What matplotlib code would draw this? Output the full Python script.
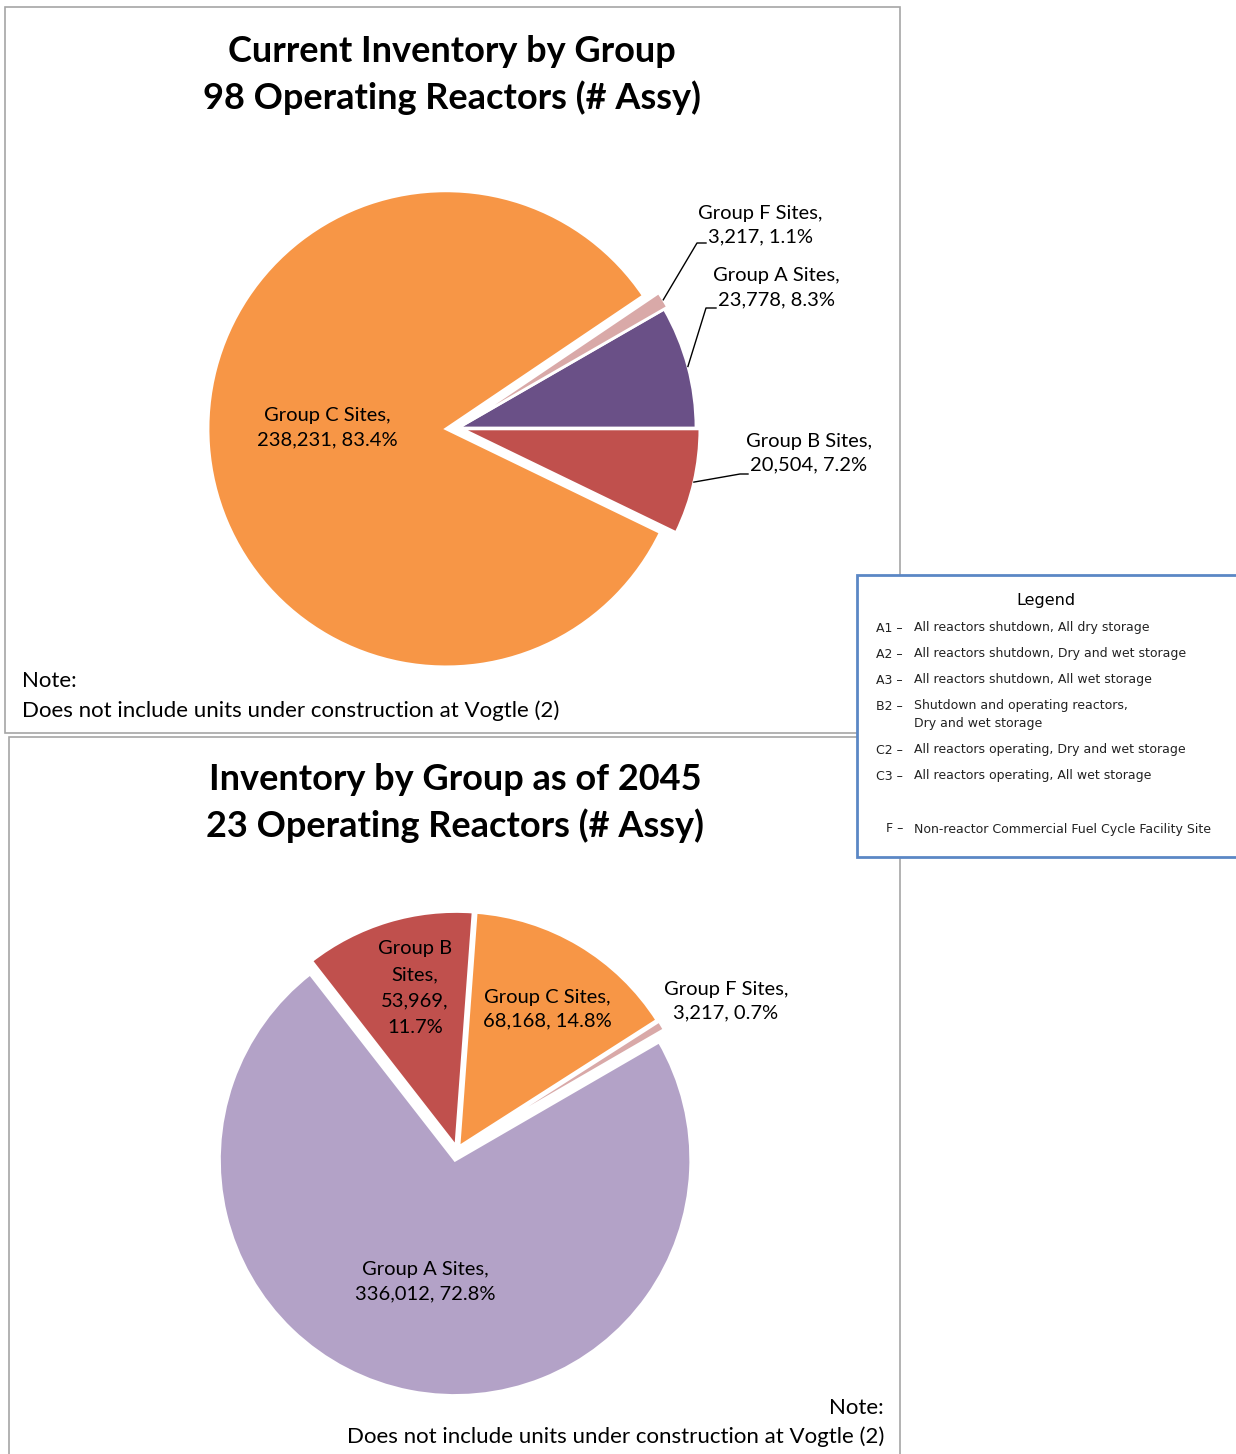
import matplotlib
matplotlib.use("Agg")
import numpy as np
import matplotlib.pyplot as plt
from matplotlib.patches import Rectangle

W, H = 1236, 1454

# current inventory, 98 operating reactors (counterclockwise from 3 o'clock)
groups_now = ["Group A Sites", "Group F Sites", "Group C Sites", "Group B Sites"]
assy_now = [23778, 3217, 238231, 20504]
colors_now = ["#6A5087", "#D9A9A8", "#F79646", "#C0504D"]

# inventory as of 2045, 23 operating reactors
groups_2045 = ["Group A Sites", "Group F Sites", "Group C Sites", "Group B Sites"]
assy_2045 = [336012, 3217, 68168, 53969]
colors_2045 = ["#B3A2C7", "#D9A9A8", "#F79646", "#C0504D"]

legend_codes = ["A1", "A2", "A3", "B2", "C2", "C3", "F"]
legend_desc = ["All reactors shutdown, All dry storage",
               "All reactors shutdown, Dry and wet storage",
               "All reactors shutdown, All wet storage",
               "Shutdown and operating reactors,\nDry and wet storage",
               "All reactors operating, Dry and wet storage",
               "All reactors operating, All wet storage",
               "Non-reactor Commercial Fuel Cycle Facility Site"]

note = "Does not include units under construction at Vogtle (2)"
FONT = "Lato"
LBL = dict(fontsize=14.5, family=FONT, linespacing=1.5, ha="center", va="center")
TTL = dict(fontsize=26, fontweight="bold", family=FONT, linespacing=1.42, ha="center", va="center")


def Y(y):
    # picture rows are counted from the top
    return H - y


def label(name, v, total):
    return "%s,\n%s, %.1f%%" % (name, format(v, ","), 100.0 * v / total)


fig = plt.figure(figsize=(12.36, 14.54), dpi=100)
ax = fig.add_axes([0, 0, 1, 1])

# panel frames
ax.add_patch(Rectangle((5, Y(733)), 895, 726, fill=False, edgecolor="#A6A6A6", lw=1.2, zorder=1))
ax.add_patch(Rectangle((9, Y(1470)), 891, 733, fill=False, edgecolor="#A6A6A6", lw=1.2, zorder=1))

# ---- top pie
wedges_now, _ = ax.pie(assy_now, colors=colors_now, startangle=0, counterclock=True,
                       center=(458, Y(428)), radius=238, explode=[0, 4, 12, 4],
                       wedgeprops=dict(edgecolor="white", linewidth=2))
tot = sum(assy_now)

ax.text(452, Y(75), "Current Inventory by Group\n98 Operating Reactors (# Assy)", **TTL)

ax.text(327, Y(428), label(groups_now[2], assy_now[2], tot), **LBL)

# outside labels with leader lines: (text centre, elbow, end of line)
outside_now = {0: ((776, 288), (706, 308), (716, 308)),
               1: ((760, 225), (697, 243), (706, 243)),
               3: ((809, 453), (740, 474), (748, 474))}
for i, (txt, elbow, end) in outside_now.items():
    w = wedges_now[i]
    a = np.radians((w.theta1 + w.theta2) / 2)
    x0 = w.center[0] + w.r * np.cos(a)
    y0 = w.center[1] + w.r * np.sin(a)
    ax.plot([x0, elbow[0], end[0]], [y0, Y(elbow[1]), Y(end[1])], color="black", lw=1)
    ax.text(txt[0], Y(txt[1]), label(groups_now[i], assy_now[i], tot), **LBL)

ax.text(22, Y(681), "Note:", ha="left", va="center", fontsize=16, family=FONT)
ax.text(22, Y(711), note, ha="left", va="center", fontsize=16, family=FONT)

# ---- bottom pie
wedges_45, _ = ax.pie(assy_2045, colors=colors_2045, startangle=127.9, counterclock=True,
                      center=(457, Y(1150)), radius=236, explode=[10, 4, 3, 3],
                      wedgeprops=dict(edgecolor="white", linewidth=2.5))
tot = sum(assy_2045)

ax.text(455, Y(803), "Inventory by Group as of 2045\n23 Operating Reactors (# Assy)", **TTL)

ax.text(425, Y(1282), label(groups_2045[0], assy_2045[0], tot), **LBL)
ax.text(726, Y(1001), label(groups_2045[1], assy_2045[1], tot), **LBL)
ax.text(547, Y(1009), label(groups_2045[2], assy_2045[2], tot), **LBL)
b_txt = "Group B\nSites,\n%s,\n%.1f%%" % (format(assy_2045[3], ","), 100.0 * assy_2045[3] / tot)
ax.text(415, Y(988), b_txt, **dict(LBL, linespacing=1.65))

ax.text(884, Y(1408), "Note:", ha="right", va="center", fontsize=16, family=FONT)
ax.text(884, Y(1437), note, ha="right", va="center", fontsize=16, family=FONT)

# ---- legend box
ax.add_patch(Rectangle((857, Y(857)), 400, 282, facecolor="white", edgecolor="#5B87C5", lw=2, zorder=5))
ax.text(1046, Y(600), "Legend", ha="center", va="center", fontsize=11.5, family="DejaVu Sans", zorder=6)
rows = [628, 654, 680, 706, 750, 776, 829]
for code, desc, ry in zip(legend_codes, legend_desc, rows):
    ax.text(903, Y(ry), code + " \u2013", ha="right", va="center", fontsize=9, family="DejaVu Sans",
            color="#222222", zorder=6)
    for k, line in enumerate(desc.split("\n")):
        ax.text(914, Y(ry + 18 * k), line, ha="left", va="center", fontsize=9, family="DejaVu Sans",
                color="#222222", zorder=6)

ax.set_xlim(0, W)
ax.set_ylim(0, H)
ax.set_aspect("equal")
ax.axis("off")

fig.savefig("out.png", dpi=100)
